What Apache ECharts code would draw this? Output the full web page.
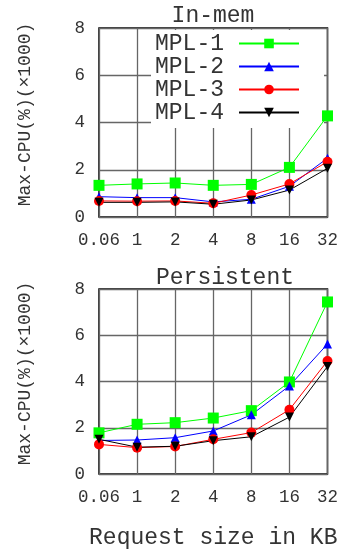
<!DOCTYPE html>
<html><head><meta charset="utf-8">
<script src="https://cdn.jsdelivr.net/npm/echarts@6/dist/echarts.min.js"></script>
<style>html,body{margin:0;padding:0;background:#fff}#c{width:341px;height:550px}</style>
</head><body><div id="c"></div>
<script>
const categories = ['0.06','1','2','4','8','16','32'];
const seriesNames = ['MPL-1','MPL-2','MPL-3','MPL-4'];
const inMem1 = [1.34,1.40,1.44,1.34,1.38,2.10,4.28];
const inMem2 = [0.86,0.82,0.82,0.64,0.75,1.30,2.49];
const inMem3 = [0.68,0.67,0.68,0.58,0.93,1.40,2.34];
const inMem4 = [0.62,0.62,0.64,0.54,0.72,1.14,2.06];
const pers1 = [1.78,2.15,2.22,2.42,2.74,3.98,7.44];
const pers2 = [1.45,1.47,1.57,1.86,2.56,3.81,5.62];
const pers3 = [1.28,1.14,1.19,1.50,1.79,2.78,4.89];
const pers4 = [1.50,1.16,1.20,1.44,1.61,2.46,4.65];
const yTicks = [0,2,4,6,8];
const titles = ['In-mem','Persistent'];
const yName = 'Max-CPU(%)(×1000)';
const xName = 'Request size in KB';

const FONT = 'Liberation Mono';
const colors = ['#00ff00','#0000ff','#ff0000','#000000'];
const symbols = ['rect','triangle','circle','triangle'];
const rotations = [0,0,0,180];
const sizes = [11,9,10,9];

const chart = echarts.init(document.getElementById('c'));
function xAx(i, withName){
  return {
    type:'category', gridIndex:i, data:categories, boundaryGap:false,
    axisLine:{show:false}, axisTick:{show:false},
    axisLabel:{fontFamily:FONT,fontSize:17.5,color:'#333',margin:14,interval:0},
    splitLine:{show:true,interval:0,lineStyle:{color:'#666',width:1.3}},
    name: withName ? xName : '', nameLocation:'middle', nameGap:52,
    nameTextStyle:{fontFamily:FONT,fontSize:23,color:'#333'}
  };
}
function yAx(i){
  return {
    type:'value', gridIndex:i, min:yTicks[0], max:yTicks[yTicks.length-1], interval:2,
    axisLine:{show:false}, axisTick:{show:false},
    axisLabel:{fontFamily:FONT,fontSize:17.5,color:'#333',margin:14},
    splitLine:{show:true,lineStyle:{color:'#666',width:1.3}},
    name:yName, nameLocation:'middle', nameGap:65, nameRotate:90,
    nameTextStyle:{fontFamily:FONT,fontSize:18,color:'#333',padding:[0,0,0,16]}
  };
}
const data = [[inMem1,inMem2,inMem3,inMem4],[pers1,pers2,pers3,pers4]];
const series = [];
for (let g=0; g<2; g++){
  for (let s=0; s<4; s++){
    series.push({
      type:'line', name:seriesNames[s], xAxisIndex:g, yAxisIndex:g,
      data:data[g][s], symbol:symbols[s], symbolRotate:rotations[s], symbolSize:sizes[s],
      showAllSymbol:true, z:3,
      lineStyle:{color:colors[s],width:1}, itemStyle:{color:colors[s]},
      animation:false
    });
  }
}
chart.setOption({
  backgroundColor:'#fff',
  animation:false,
  title:[
    {text:titles[0],left:213,top:4,textAlign:'center',padding:0,
     textStyle:{fontFamily:FONT,fontSize:23,fontWeight:'normal',color:'#333'}},
    {text:titles[1],left:225,top:266,textAlign:'center',padding:0,
     textStyle:{fontFamily:FONT,fontSize:23,fontWeight:'normal',color:'#333'}}
  ],
  grid:[
    {left:99,right:12,top:28,height:189,show:true,borderColor:'#000',borderWidth:1.5,backgroundColor:'transparent'},
    {left:99,right:12,top:289,height:189,show:true,borderColor:'#000',borderWidth:1.5,backgroundColor:'transparent'}
  ],
  xAxis:[xAx(0,false),xAx(1,true)],
  yAxis:[yAx(0),yAx(1)],
  legend:{
    data:seriesNames, orient:'vertical', align:'right', left:151, top:30, z:2,
    backgroundColor:'#fff', padding:[2,24,4,4], itemWidth:60, itemHeight:12, itemGap:0,
    textStyle:{fontFamily:FONT,fontSize:23,color:'#333',lineHeight:20,padding:[0,10,0,0]},
    selectedMode:false
  },
  series:series
});
</script></body></html>
